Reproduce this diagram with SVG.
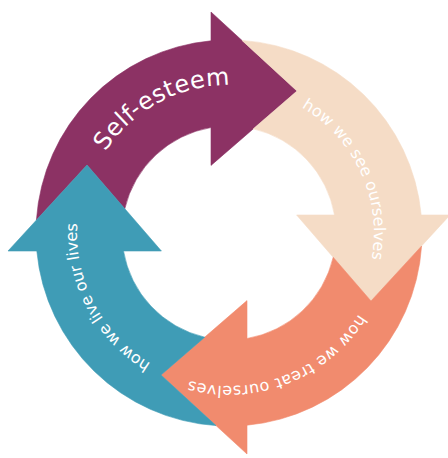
<svg xmlns="http://www.w3.org/2000/svg" xmlns:xlink="http://www.w3.org/1999/xlink" width="448" height="458" viewBox="0 0 448 458">
  <style>
    .lbl { font-family: "DejaVu Sans", "Liberation Sans", sans-serif; fill: #ffffff; }
    .big { font-size: 24px; }
    .small { font-size: 16px; }
    .arr { stroke-width: 0.6; stroke-linejoin: miter; }
  </style>
  <defs>
    <path id="arrow" d="M36.4,220 A193,193 0 0 1 211,40.8 L211,12 L297,91 L211,165.4 L211,127.5 A107,107 0 0 0 124.8,208.7 L87,165 Z"/>
    <path id="tp-self" d="M105.4,151.5 A148,148 0 0 1 232.1,85"/>
    <path id="tp-see" d="M301.5,107.4 A145,145 0 0 1 371.2,261.2"/>
    <path id="tp-treat" d="M358.7,314.1 A153,153 0 0 1 186.8,380.1"/>
    <path id="tp-live" d="M150.7,363.3 A152,152 0 0 1 77.4,221.6"/>
  </defs>
  <rect width="448" height="458" fill="#ffffff"/>
  <g id="connectors"></g>
  <g id="node-self-esteem">
    <use href="#arrow" xlink:href="#arrow" class="arr" fill="#8C3264" stroke="#8C3264"/>
    <text class="lbl big"><textPath href="#tp-self" xlink:href="#tp-self" textLength="147" lengthAdjust="spacing">Self-esteem</textPath></text>
  </g>
  <g id="node-how-we-see-ourselves">
    <use href="#arrow" xlink:href="#arrow" class="arr" transform="rotate(90 229 233)" fill="#F5DCC6" stroke="#F5DCC6"/>
    <text class="lbl small"><textPath href="#tp-see" xlink:href="#tp-see" textLength="178" lengthAdjust="spacing">how we see ourselves</textPath></text>
  </g>
  <g id="node-how-we-treat-ourselves">
    <use href="#arrow" xlink:href="#arrow" class="arr" transform="rotate(180 229 233)" fill="#F18B6E" stroke="#F18B6E"/>
    <text class="lbl small"><textPath href="#tp-treat" xlink:href="#tp-treat" textLength="195" lengthAdjust="spacing">how we treat ourselves</textPath></text>
  </g>
  <g id="node-how-we-live-our-lives">
    <use href="#arrow" xlink:href="#arrow" class="arr" transform="rotate(270 229 233)" fill="#3F9CB6" stroke="#3F9CB6"/>
    <text class="lbl small"><textPath href="#tp-live" xlink:href="#tp-live" textLength="166" lengthAdjust="spacing">how we live our lives</textPath></text>
  </g>
</svg>
